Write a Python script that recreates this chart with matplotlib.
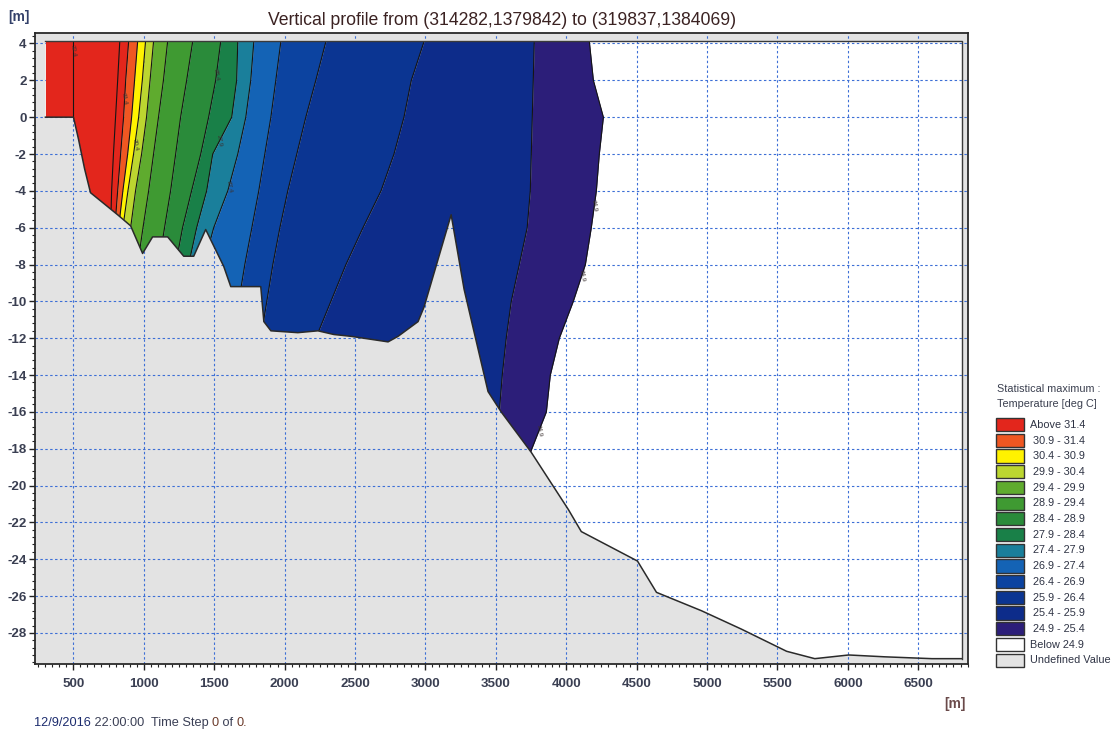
import matplotlib
matplotlib.use("Agg")
import matplotlib.pyplot as plt
import numpy as np
from matplotlib.patches import Polygon, Rectangle
from matplotlib.ticker import MultipleLocator

plt.rcParams['font.family'] = ['Liberation Sans', 'DejaVu Sans']
plt.rcParams['axes.unicode_minus'] = False

title = "Vertical profile from (314282,1379842) to (319837,1384069)"
footer_parts = [("12/9/2016", "#1c2c6e"), (" 22:00:00  Time Step ", "#3a3f55"),
                ("0", "#6b3a2a"), (" of ", "#3a3f55"), ("0.", "#6b3a2a")]

# Seabed along the transect: distance [m] and elevation [m]
bed_x = [302, 501, 537, 580, 622, 815, 907, 992, 1063, 1170, 1284, 1355, 1440,
         1568, 1618, 1831, 1853, 1903, 2094, 2237, 2350, 2473, 2735, 2806, 2948,
         2991, 3183, 3275, 3396, 3445, 3538, 3752, 4015, 4107, 4506, 4641, 4961,
         5245, 5565, 5765, 6006, 6262, 6597, 6810]
bed_z = [0.0, 0.0, -1.2, -2.8, -4.1, -5.3, -5.9, -7.4, -6.5, -6.5, -7.55, -7.55, -6.1,
         -8.1, -9.2, -9.2, -11.1, -11.6, -11.7, -11.6, -11.8, -11.9, -12.2, -11.9, -11.1,
         -10.3, -5.3, -9.35, -13.3, -14.9, -16.0, -18.2, -21.3, -22.5, -24.1, -25.8, -26.8,
         -27.8, -29.0, -29.4, -29.2, -29.3, -29.4, -29.4]

domain_left, domain_right = 302, 6810
surface_z = 4.12

# Isotherm positions [m] at each depth level
depth_levels = [4.12, 2, 0, -2, -4, -6, -8, -10, -12, -14, -16, -18.5]
iso_324 = [500, 500, 500, 500, 500, 500, 500, 500, 500, 500, 500, 500]
iso_319 = [830, 815, 800, 785, 772, 765, 765, 765, 765, 765, 765, 765]
iso_314 = [893, 872, 857, 836, 815, 795, 790, 790, 790, 790, 790, 790]
iso_309 = [957, 935, 914, 886, 852, 822, 815, 815, 815, 815, 815, 815]
iso_304 = [1013, 990, 964, 928, 888, 852, 840, 840, 840, 840, 840, 840]
iso_299 = [1070, 1045, 1020, 985, 942, 907, 878, 870, 870, 870, 870, 870]
iso_294 = [1170, 1140, 1105, 1070, 1035, 995, 957, 930, 930, 930, 930, 930]
iso_289 = [1348, 1305, 1262, 1227, 1191, 1148, 1106, 1070, 1050, 1050, 1050, 1050]
iso_284 = [1547, 1511, 1461, 1405, 1340, 1276, 1227, 1190, 1160, 1160, 1160, 1160]
iso_279 = [1668, 1660, 1625, 1490, 1447, 1376, 1319, 1280, 1250, 1250, 1250, 1250]
iso_274 = [1782, 1760, 1725, 1668, 1597, 1497, 1426, 1369, 1330, 1330, 1330, 1330]
iso_269 = [1974, 1938, 1903, 1860, 1817, 1768, 1718, 1675, 1640, 1610, 1600, 1600]
iso_264 = [2294, 2222, 2151, 2087, 2023, 1967, 1917, 1874, 1831, 1800, 1780, 1760]
iso_259 = [2991, 2900, 2848, 2777, 2685, 2557, 2436, 2329, 2222, 2150, 2100, 2050]
iso_254 = [3773, 3766, 3759, 3752, 3745, 3723, 3667, 3610, 3574, 3546, 3525, 3503]
iso_249 = [4164, 4193, 4264, 4235, 4214, 4178, 4136, 4050, 3951, 3887, 3859, 3730]

# contour labels: (line, value text, depth where it sits)
contour_labels = [(iso_324, "32.4", 3.6), (iso_314, "31.4", 1.0), (iso_304, "30.4", -1.5),
                  (iso_284, "28.4", 2.3), (iso_279, "27.9", -1.3), (iso_274, "27.4", -3.8),
                  (iso_249, "24.9", -4.8), (iso_249, "24.9", -8.6), (iso_249, "24.9", -17.0)]

legend_labels = ["Above 31.4", "30.9 - 31.4", "30.4 - 30.9", "29.9 - 30.4",
                 "29.4 - 29.9", "28.9 - 29.4", "28.4 - 28.9", "27.9 - 28.4",
                 "27.4 - 27.9", "26.9 - 27.4", "26.4 - 26.9", "25.9 - 26.4",
                 "25.4 - 25.9", "24.9 - 25.4", "Below 24.9", "Undefined Value"]
legend_colors = ["#e3261c", "#ef5722", "#fff200", "#bcd630", "#5fab2e", "#3f9a32",
                 "#2a8b3a", "#198048", "#1a7f9b", "#1463b5", "#0c43a0", "#0b3592",
                 "#0d2c8a", "#2c1e79", "#ffffff", "#e3e3e3"]

undefined_color = legend_colors[-1]
band_colors = legend_colors[:14]
isotherms = [iso_314, iso_309, iso_304, iso_299, iso_294, iso_289, iso_284,
             iso_279, iso_274, iso_269, iso_264, iso_259, iso_254, iso_249]
extra_lines = [iso_324, iso_319]

fig = plt.figure(figsize=(11.2, 7.37), dpi=100)
W, H = 1120, 737
ax = fig.add_axes([35 / W, 73 / H, (968 - 35) / W, (664 - 33) / H])
ax.set_facecolor(undefined_color)
ax.set_xlim(228, 6853)
ax.set_ylim(-29.69, 4.57)

# wet part of the section (above the seabed, below the surface)
water_xy = [(domain_left, surface_z), (domain_right, surface_z)] + \
           list(zip(bed_x[::-1], bed_z[::-1]))
water = Polygon(water_xy, closed=True, facecolor="white", edgecolor="none", zorder=0.8)
ax.add_patch(water)

# temperature bands between consecutive isotherms
n = len(depth_levels)
edges = [[domain_left] * n] + isotherms
for left, right, col in zip(edges[:-1], edges[1:], band_colors):
    band = ax.fill_betweenx(depth_levels, left, right, color=col, lw=0, zorder=2)
    band.set_clip_path(water)

# contour lines
for iso in isotherms + extra_lines:
    ln, = ax.plot(iso, depth_levels, color="#151515", lw=0.8, zorder=3)
    ln.set_clip_path(water)

# small labels sitting on the contour lines
for iso, txt, z in contour_labels:
    xs = np.interp(z, depth_levels[::-1], iso[::-1])
    ax.text(xs, z, txt, fontsize=4.5, color="#3a3030", rotation=-80,
            ha='center', va='center', zorder=4)

# seabed and domain outline
ax.plot(bed_x, bed_z, color="#2a2a2a", lw=1.1, zorder=3.2)
ax.plot([domain_left, domain_right, domain_right], [surface_z, surface_z, bed_z[-1]],
        color="#3a3a3a", lw=1.0, zorder=3.2)

# grid and ticks
ax.set_xticks(np.arange(500, 6501, 500))
ax.set_yticks(np.arange(-28, 5, 2))
ax.xaxis.set_minor_locator(MultipleLocator(50))
ax.yaxis.set_minor_locator(MultipleLocator(0.4))
ax.set_axisbelow('line')
ax.grid(True, which='major', color="#3d6fd6", ls=(0, (2.2, 2.2)), lw=0.8)
ax.tick_params(axis='both', which='major', length=4, width=1, direction='out',
               colors="#222222", labelcolor="#3a3f52", labelsize=9.6)
ax.tick_params(axis='both', which='minor', length=2.5, width=0.8, direction='out',
               colors="#222222")
ax.tick_params(axis='y', pad=2)
ax.tick_params(axis='x', pad=6)
for lab in ax.get_xticklabels() + ax.get_yticklabels():
    lab.set_fontweight('bold')
for s in ax.spines.values():
    s.set_color("#2a2a2a")
    s.set_linewidth(1.3)

# overlay for title, unit labels, footer and legend (pixel coordinates)
ov = fig.add_axes([0, 0, 1, 1], zorder=5)
ov.set_xlim(0, W)
ov.set_ylim(H, 0)
ov.axis('off')
ov.patch.set_alpha(0)

ov.text(502, 20, title, ha='center', va='center', fontsize=12.7, color="#3b2222")
ov.text(8, 17, "[m]", ha='left', va='center', fontsize=10, color="#33406a", fontweight='bold')
ov.text(966, 704, "[m]", ha='right', va='center', fontsize=10, color="#6a4a4a", fontweight='bold')

# footer written piece by piece so each part keeps its own colour
renderer = fig.canvas.get_renderer()
x_px = 34
for txt, col in footer_parts:
    t = ov.text(x_px, 723, txt, ha='left', va='center', fontsize=9.2, color=col)
    bb = t.get_window_extent(renderer=renderer)
    x_px += bb.width

ov.text(997, 389, "Statistical maximum :", ha='left', va='center', fontsize=7.8, color="#3a3f4f")
ov.text(997, 404, "Temperature [deg C]", ha='left', va='center', fontsize=7.8, color="#3a3f4f")
row_h = 15.7
top0 = 417
for i, (lab, col) in enumerate(zip(legend_labels, legend_colors)):
    y0 = top0 + i * row_h
    ov.add_patch(Rectangle((996, y0 + 1), 28, row_h - 2.5, facecolor=col,
                           edgecolor="#333333", lw=1.0))
    indent = 1030 if not lab[0].isdigit() else 1033
    ov.text(indent, y0 + row_h / 2, lab, ha='left', va='center', fontsize=7.8,
            color="#2e3344")

fig.savefig("out.png", dpi=100)
